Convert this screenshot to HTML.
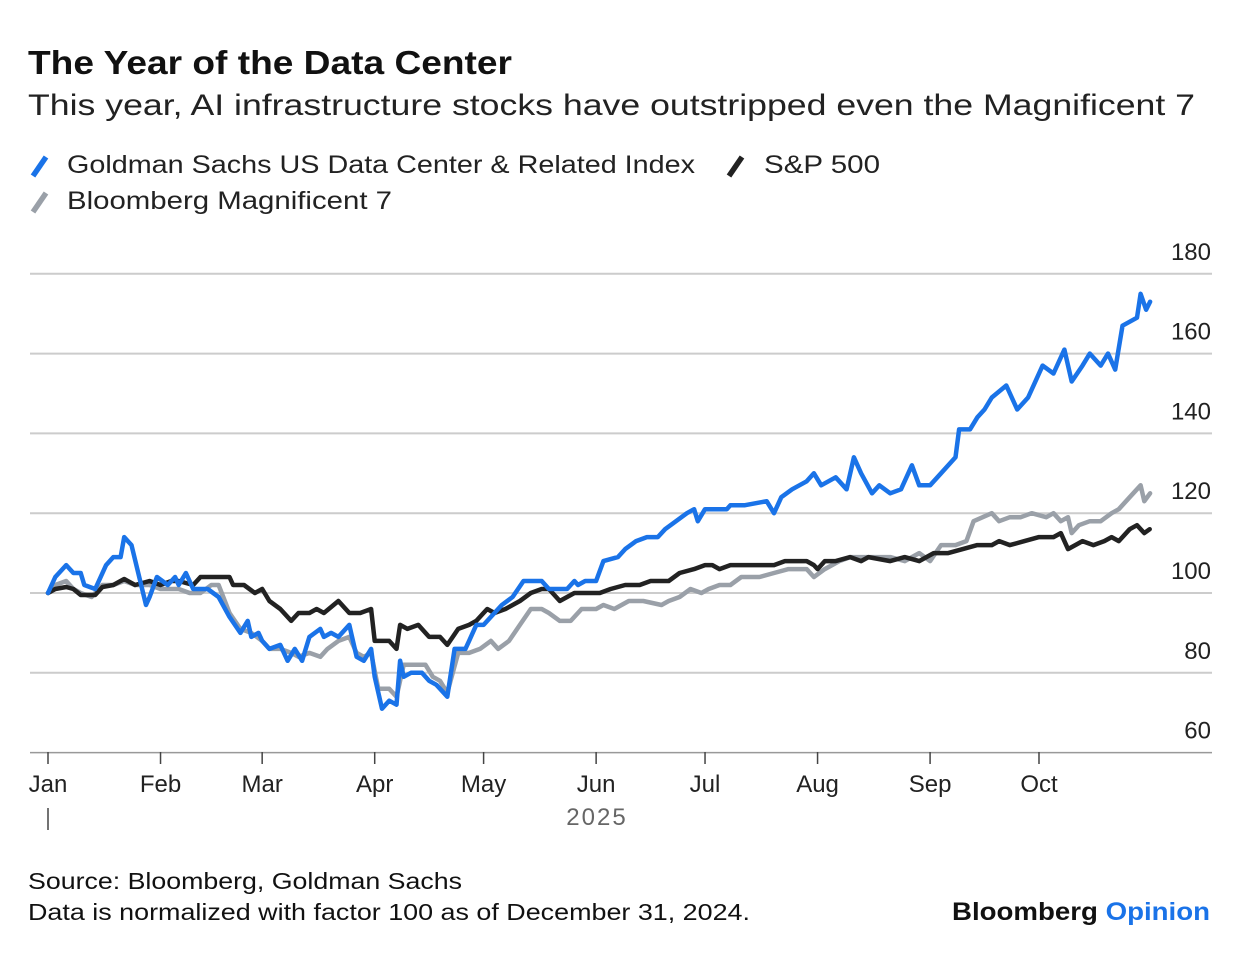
<!DOCTYPE html>
<html><head><meta charset="utf-8"><style>
body{margin:0;background:#fff;width:1240px;height:954px;overflow:hidden;font-family:"Liberation Sans",Arial,sans-serif;color:#111}
</style></head><body>
<svg width="1240" height="954" xmlns="http://www.w3.org/2000/svg" font-family="Liberation Sans, Arial, sans-serif">
<text x="28" y="74" font-size="33" font-weight="bold" fill="#111" textLength="484" lengthAdjust="spacingAndGlyphs">The Year of the Data Center</text>
<text x="28" y="115" font-size="30" fill="#222" textLength="1167" lengthAdjust="spacingAndGlyphs">This year, AI infrastructure stocks have outstripped even the Magnificent 7</text>
<g font-size="25" fill="#222">
 <g><line x1="33" y1="176" x2="46" y2="157" stroke="#1a73e8" stroke-width="5.5"/><text x="67" y="173" textLength="628" lengthAdjust="spacingAndGlyphs">Goldman Sachs US Data Center &amp; Related Index</text></g>
 <g><line x1="729" y1="176" x2="742" y2="157" stroke="#222" stroke-width="5.5"/><text x="764" y="173" textLength="116" lengthAdjust="spacingAndGlyphs">S&amp;P 500</text></g>
 <g><line x1="33" y1="212" x2="46" y2="193" stroke="#9aa0a8" stroke-width="5.5"/><text x="67" y="209" textLength="325" lengthAdjust="spacingAndGlyphs">Bloomberg Magnificent 7</text></g>
</g>
<g id="grid"></g>
<g id="yl" font-size="24" fill="#222" text-anchor="end"></g>
<g id="xl" font-size="24" fill="#222" text-anchor="middle"></g>
<text x="597" y="825" font-size="24" fill="#666" text-anchor="middle" letter-spacing="2">2025</text>
<line x1="48" y1="808" x2="48" y2="830" stroke="#444" stroke-width="1.5"/>
<g id="series"></g>
<text x="28" y="889" font-size="23" fill="#111" textLength="434" lengthAdjust="spacingAndGlyphs">Source: Bloomberg, Goldman Sachs</text>
<text x="28" y="920" font-size="23" fill="#111" textLength="722" lengthAdjust="spacingAndGlyphs">Data is normalized with factor 100 as of December 31, 2024.</text>
<text x="952" y="920" font-size="25" font-weight="bold" textLength="258" lengthAdjust="spacingAndGlyphs"><tspan fill="#111">Bloomberg </tspan><tspan fill="#1a73e8">Opinion</tspan></text>
</svg>
<script>
const yTicks=[60,80,100,120,140,160,180];
const months=["Jan","Feb","Mar","Apr","May","Jun","Jul","Aug","Sep","Oct"];
const monthDays=[0,31,59,90,120,151,181,212,243,273];
// [day-of-year offset, index value]
const blueSeries=[[0,100],[2,104],[5,107],[7,105],[9,105],[10,102],[13,101],[16,107],[18,109],[20,109],[21,114],[23,112],[27,97],[28,99],[30,104],[33,102],[35,104],[36,102],[38,105],[40,101],[43,101],[44,101],[47,99],[50,94],[53,90],[55,93],[56,89],[58,90],[59,88],[61,86],[64,87],[66,83],[68,86],[70,83],[72,89],[75,91],[76,89],[78,90],[80,89],[83,92],[85,84],[87,83],[89,86],[90,79],[92,71],[94,73],[96,72],[97,83],[98,79],[100,80],[103,80],[105,78],[107,77],[110,74],[112,86],[115,86],[116,88],[118,92],[120,92],[122,94],[125,97],[128,99],[131,103],[133,103],[136,103],[138,101],[140,101],[143,101],[145,103],[146,102],[148,103],[151,103],[153,108],[157,109],[159,111],[162,113],[165,114],[168,114],[170,116],[173,118],[176,120],[178,121],[179,118],[181,121],[184,121],[187,121],[188,122],[192,122],[198,123],[200,120],[202,124],[205,126],[209,128],[211,130],[213,127],[217,129],[220,126],[222,134],[224,130],[227,125],[229,127],[232,125],[235,126],[238,132],[240,127],[243,127],[246,130],[250,134],[251,141],[254,141],[256,144],[258,146],[260,149],[264,152],[267,146],[270,149],[274,157],[277,155],[280,161],[282,153],[285,157],[287,160],[290,157],[292,160],[294,156],[296,167],[300,169],[301,175],[302.5,171],[303.6,173]];
const blackSeries=[[0,100],[2,101],[5,101.5],[7,101],[9,99.5],[12,99.5],[13,99.5],[15,101.5],[18,102],[21,103.5],[24,102],[28,103],[31,102],[34,103],[36,103],[40,102],[42,104],[46,104],[50,104],[51,102],[54,102],[57,100],[59,101],[61,98],[64,96],[67,93],[69,95],[72,95],[74,96],[76,95],[80,98],[83,95],[86,95],[89,96],[90,88],[94,88],[96,86],[97,92],[99,91],[102,92],[105,89],[108,89],[110,87],[113,91],[116,92],[118,93],[121,96],[123,95],[126,96],[130,98],[133,100],[136,101],[138,101],[141,98],[145,100],[149,100],[152,100],[155,101],[159,102],[163,102],[166,103],[169,103],[171,103],[174,105],[178,106],[181,107],[183,107],[185,106],[188,107],[191,107],[196,107],[200,107],[203,108],[207,108],[209,108],[211,107],[212,106],[214,108],[217,108],[221,109],[224,108],[226,109],[232,108],[236,109],[240,108],[244,110],[248,110],[252,111],[256,112],[260,112],[262,113],[265,112],[269,113],[273,114],[277,114],[279,115],[281,111],[283,112],[285,113],[288,112],[291,113],[293,114],[295,113],[298,116],[300,117],[302,115],[303.5,116]];
const graySeries=[[0,100],[2,102],[5,103],[7,101],[9,100],[12,99],[13,100],[15,102],[18,102],[21,103],[24,102],[28,102],[31,101],[34,101],[36,101],[39,100],[42,100],[45,102],[47,102],[50,95],[53,91],[56,90],[59,88],[61,86],[64,86],[67,85],[69,84],[72,85],[75,84],[77,86],[80,88],[83,89],[85,85],[87,84],[89,85],[91,76],[94,76],[96,74],[98,82],[101,82],[104,82],[106,79],[108,78],[110,75],[113,85],[116,85],[119,86],[122,88],[124,86],[127,88],[130,92],[133,96],[136,96],[138,95],[141,93],[144,93],[147,96],[151,96],[153,97],[156,96],[160,98],[164,98],[169,97],[171,98],[174,99],[177,101],[180,100],[182,101],[185,102],[188,102],[191,104],[196,104],[200,105],[204,106],[209,106],[211,104],[214,106],[218,108],[221,109],[224,109],[228,109],[232,109],[236,108],[240,110],[243,108],[246,112],[250,112],[253,113],[255,118],[260,120],[262,118],[265,119],[268,119],[271,120],[275,119],[277,120],[279,118],[281,119],[282,115],[284,117],[287,118],[290,118],[293,120],[295,121],[298,124],[301,127],[302,123],[303.6,125]];
const NS="http://www.w3.org/2000/svg";
const yS=v=>593-(v-100)*3.99;
const xS=d=>48+d*3.63;
function mk(t,a,p){const e=document.createElementNS(NS,t);for(const k in a)e.setAttribute(k,a[k]);p.appendChild(e);return e;}
const grid=document.getElementById('grid'),yl=document.getElementById('yl'),xl=document.getElementById('xl'),ser=document.getElementById('series');
yTicks.forEach(v=>{
 const l=mk('line',{x1:30,x2:1212,y1:yS(v),y2:yS(v),stroke:v===60?'#999':'#ccc','stroke-width':v===60?1.5:2},grid);
 
 
 const t=mk('text',{x:1211,y:yS(v)-14},yl);t.textContent=v;
 
 
});
months.forEach((m,i)=>{
 const x=xS(monthDays[i]);
 const tk=mk('line',{x1:x,x2:x,y1:752,y2:764,stroke:'#444','stroke-width':1.5},xl);
 
 
 const t=mk('text',{x:x,y:792},xl);t.textContent=m;
 
 
});
function line(series,col,name){
 const d=series.map((p,i)=>(i?'L':'M')+xS(p[0]).toFixed(1)+','+yS(p[1]).toFixed(1)).join('');
 const p=mk('path',{d:d,fill:'none',stroke:col,'stroke-width':4.5,'stroke-linejoin':'round','stroke-linecap':'round'},ser);
 
 
}
line(graySeries,'#9aa0a8','line-magnificent-7');
line(blackSeries,'#222222','line-sp500');
line(blueSeries,'#1a73e8','line-goldman-data-center');
</script>
</body></html>
